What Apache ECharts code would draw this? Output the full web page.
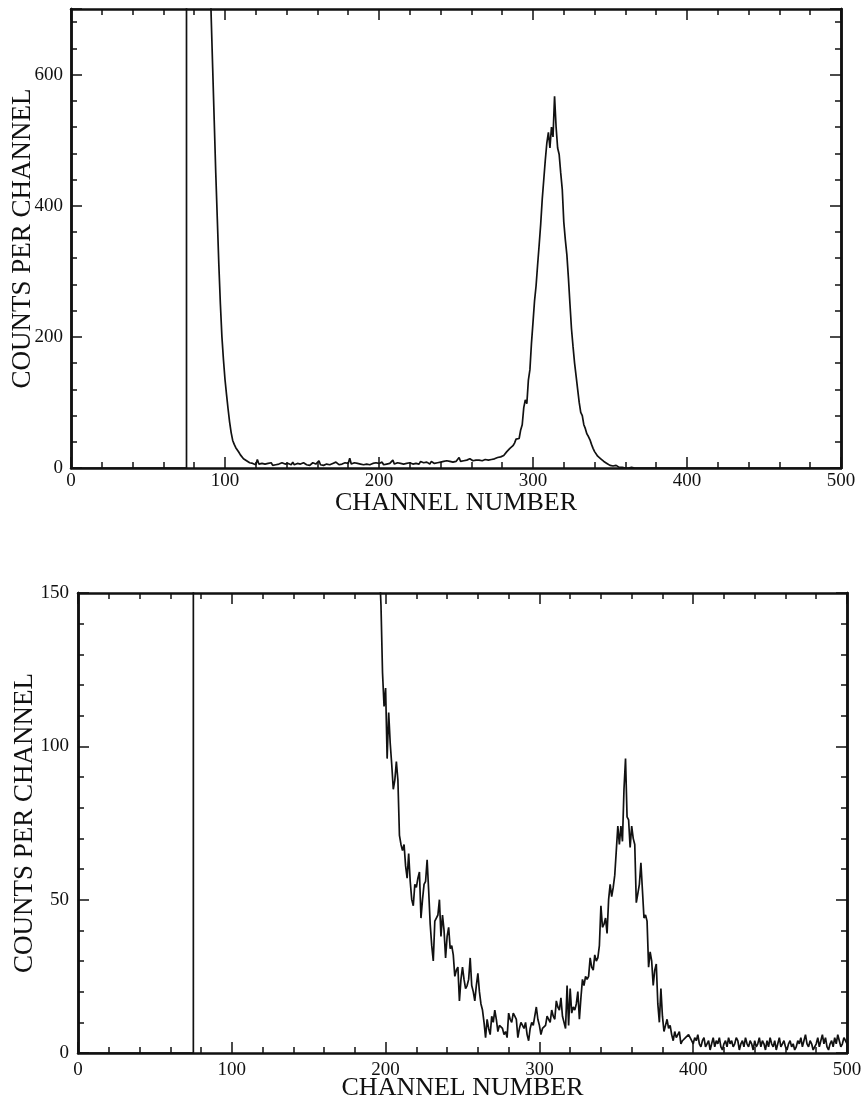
<!DOCTYPE html>
<html>
<head>
<meta charset="utf-8">
<script src="https://cdn.jsdelivr.net/npm/echarts@6/dist/echarts.min.js"></script>
<style>
html,body{margin:0;padding:0;background:#fff;}
#chart{width:862px;height:1099px;}
</style>
</head>
<body>
<div id="chart"></div>
<script>
// ---------- DATA ----------
var xTickLabels = ['0', '100', '200', '300', '400', '500'];
var topYTickLabels = ['0', '200', '400', '600'];
var bottomYTickLabels = ['0', '50', '100', '150'];

// Both spectra are zero from channel 0 up to channel 75
var zeroChannels = [0, 75];

// Top spectrum: counts per channel, first value is channel 75
var topStartChannel = 75;
var topCounts = [
  // 75-89 (off scale)
  3000, 3200, 3400, 3500, 3600, 3600, 3500, 3400, 3200, 3000, 2700, 2300, 1900, 1500, 1100,
  // 90-119
  790, 690, 610, 530, 450, 380, 310, 250, 200, 165,
  135, 112, 90, 70, 54, 42, 36, 31, 28, 24,
  20, 17, 14, 12, 11, 9, 8, 7, 7, 6,
  // 120-139
  5, 13, 6, 4, 7, 5, 6, 4, 7, 5, 8, 4, 6, 5, 7, 6, 4, 8, 5, 6,
  // 140-159
  4, 7, 6, 5, 9, 5, 6, 7, 4, 6, 5, 8, 6, 5, 7, 4, 6, 8, 5, 6,
  // 160-179
  7, 11, 5, 6, 4, 7, 6, 8, 5, 6, 7, 5, 9, 6, 5, 7, 6, 4, 8, 6,
  // 180-199
  7, 15, 6, 5, 8, 6, 7, 5, 6, 9, 5, 7, 6, 8, 5, 6, 7, 5, 8, 6,
  // 200-219
  7, 6, 9, 5, 7, 6, 8, 7, 5, 12, 6, 7, 8, 6, 7, 9, 6, 8, 7, 6,
  // 220-239
  8, 7, 6, 9, 7, 8, 6, 10, 7, 8, 7, 9, 8, 6, 10, 8, 7, 9, 8, 10,
  // 240-259
  9, 8, 10, 9, 11, 8, 10, 12, 9, 11, 10, 13, 16, 10, 12, 11, 13, 12, 11, 14,
  // 260-269
  12, 11, 13, 12, 14, 12, 13, 11, 14, 13,
  // 270-289
  11, 12, 10, 13, 12, 14, 13, 16, 18, 17, 20, 19, 22, 25, 27, 30, 31, 34, 38, 44,
  // 290-309
  47, 45, 58, 66, 92, 104, 98, 134, 150, 190, 222, 255, 278, 310, 340, 372, 410, 440, 470, 496,
  // 310-329
  512, 488, 520, 505, 567, 520, 488, 478, 450, 425, 375, 348, 325, 290, 250, 212, 185, 160, 140, 120,
  // 330-349
  100, 85, 80, 66, 60, 52, 48, 43, 36, 30, 25, 22, 18, 16, 14, 12, 10, 8, 7, 5,
  // 350-369
  4, 3, 3, 2, 4, 2, 1, 3, 1, 2, 0, 1, 0, 0, 1, 0, 0, 0, 0, 0,
  // 370-399
  0, 0, 0, 0, 0, 0, 0, 0, 0, 0, 0, 0, 0, 0, 0, 0, 0, 0, 0, 0,
  0, 0, 0, 0, 0, 0, 0, 0, 0, 0,
  // 400-439
  0, 0, 0, 0, 0, 0, 0, 0, 0, 0, 0, 0, 0, 0, 0, 0, 0, 0, 0, 0,
  0, 0, 0, 0, 0, 2, 0, 0, 0, 0, 0, 0, 0, 0, 0, 0, 0, 0, 0, 0,
  // 440-500
  0, 0, 0, 0, 0, 0, 0, 0, 0, 0, 0, 0, 0, 0, 0, 0, 0, 0, 0, 0,
  0, 0, 0, 0, 0, 0, 0, 0, 0, 0, 0, 0, 0, 0, 0, 0, 0, 0, 0, 0,
  0, 0, 0, 0, 0, 0, 0, 0, 0, 0, 0, 0, 0, 0, 0, 0, 0, 0, 0, 0, 0
];

// Bottom spectrum: counts per channel, first value is channel 75
var bottomStartChannel = 75;
var bottomCounts = [
  // 75-194 (off scale)
  900, 920, 940, 950, 960, 960, 950, 940, 930, 920, 900, 880, 860, 840, 820, 800, 780, 760, 740, 720,
  700, 680, 660, 640, 620, 600, 580, 560, 540, 520, 500, 485, 470, 455, 440, 425, 410, 395, 380, 370,
  360, 350, 340, 330, 320, 310, 300, 292, 284, 276, 268, 260, 252, 245, 238, 232, 226, 220, 215, 210,
  205, 200, 196, 192, 188, 185, 182, 179, 176, 173, 170, 168, 166, 164, 162, 160, 160, 158, 158, 157,
  160, 158, 162, 158, 160, 163, 159, 161, 165, 160, 162, 164, 160, 166, 162, 165, 168, 163, 166, 170,
  168, 172, 168, 171, 174, 170, 173, 176, 172, 175, 178, 174, 176, 172, 170, 168, 172, 169, 166, 168,
  // 195-199
  170, 158, 146, 124, 113,
  // 200-219
  119, 96, 111, 101, 94, 86, 89, 95, 89, 71, 68, 66, 68, 61, 57, 65, 56, 50, 48, 55,
  // 220-239
  54, 57, 59, 44, 50, 55, 56, 63, 53, 42, 35, 30, 43, 44, 45, 50, 38, 45, 40, 31,
  // 240-259
  38, 41, 34, 35, 32, 25, 27, 28, 17, 24, 28, 24, 21, 22, 24, 31, 22, 20, 17, 22,
  // 260-279
  26, 20, 16, 14, 10, 5, 11, 8, 6, 12, 10, 14, 11, 7, 9, 9, 8, 6, 7, 5,
  // 280-299
  13, 11, 10, 13, 12, 11, 5, 8, 10, 9, 8, 10, 6, 4, 8, 10, 9, 12, 15, 11,
  // 300-319
  9, 6, 8, 8, 9, 12, 11, 10, 14, 12, 11, 17, 15, 14, 18, 12, 10, 8, 22, 9,
  // 320-339
  21, 13, 15, 14, 16, 20, 11, 18, 24, 22, 25, 24, 25, 31, 28, 27, 32, 30, 31, 35,
  // 340-359
  48, 41, 42, 44, 39, 50, 55, 51, 54, 58, 66, 74, 68, 74, 69, 86, 96, 77, 76, 67,
  // 360-379
  74, 70, 68, 49, 52, 55, 62, 53, 44, 45, 43, 28, 33, 30, 22, 27, 29, 16, 10, 21,
  // 380-399
  12, 7, 9, 11, 8, 9, 6, 4, 7, 5, 6, 7, 3, 4, 4, 5, 5, 6, 5, 4,
  // 400-419
  3, 5, 4, 6, 3, 2, 4, 5, 2, 3, 4, 1, 3, 5, 2, 4, 3, 5, 2, 1,
  // 420-439
  3, 4, 2, 5, 3, 4, 2, 3, 5, 4, 1, 3, 4, 2, 5, 3, 2, 4, 3, 1,
  // 440-459
  4, 2, 3, 5, 2, 4, 3, 1, 4, 2, 5, 3, 2, 4, 1, 3, 5, 2, 3, 4,
  // 460-479
  2, 1, 3, 4, 2, 3, 1, 2, 4, 3, 5, 2, 4, 6, 3, 2, 4, 3, 1, 2,
  // 480-500
  3, 5, 2, 4, 6, 3, 5, 2, 1, 3, 4, 2, 5, 3, 6, 4, 2, 3, 5, 4, 3
];

// ---------- BUILD ----------
function pairs(start, counts) {
  var out = zeroChannels.map(function (c) { return [c, 0]; });
  for (var i = 0; i < counts.length; i++) out.push([start + i, counts[i]]);
  return out;
}
var FONT = 'Liberation Serif';
var BLACK = '#111';

function xAxes(gridIndex, labelMargin, nameGap) {
  var common = {
    type: 'value', gridIndex: gridIndex, min: 0, max: 500, interval: 100,
    splitLine: { show: false },
    axisLine: { show: true, onZero: false, lineStyle: { color: BLACK, width: 2.5 } },
    axisTick: { show: true, inside: true, length: 11, lineStyle: { color: BLACK, width: 1.5 } },
    minorTick: { show: true, splitNumber: 5, length: 6, lineStyle: { color: BLACK, width: 1.5 } },
    minorSplitLine: { show: false }
  };
  var bottom = Object.assign({}, common, {
    position: 'bottom',
    axisLabel: { show: true, margin: labelMargin, color: BLACK, fontFamily: FONT, fontSize: 19,
      formatter: function (v) { return xTickLabels[v / 100] || ''; } },
    name: 'CHANNEL NUMBER', nameLocation: 'middle', nameGap: nameGap, nameMoveOverlap: false,
    nameTextStyle: { color: BLACK, fontFamily: FONT, fontSize: 26 }
  });
  var top = Object.assign({}, common, { position: 'top', axisLabel: { show: false } });
  return [bottom, top];
}

function yAxes(gridIndex, max, major, minor, labels, labelMargin, nameGap) {
  var base = {
    type: 'value', gridIndex: gridIndex, min: 0, max: max,
    splitLine: { show: false },
    axisLine: { show: true, onZero: false, lineStyle: { color: BLACK, width: 2.5 } }
  };
  var out = [];
  ['left', 'right'].forEach(function (pos) {
    var majorAxis = Object.assign({}, base, {
      position: pos, interval: major,
      axisTick: { show: true, inside: true, length: 11, lineStyle: { color: BLACK, width: 1.5 } },
      axisLabel: pos === 'left' ? {
        show: true, margin: labelMargin, color: BLACK, fontFamily: FONT, fontSize: 19,
        formatter: function (v) { var i = v / major; return (i === Math.round(i) && labels[i]) ? labels[i] : ''; }
      } : { show: false }
    });
    if (pos === 'left') {
      majorAxis.name = 'COUNTS PER CHANNEL';
      majorAxis.nameLocation = 'middle';
      majorAxis.nameGap = nameGap;
      majorAxis.nameMoveOverlap = false;
      majorAxis.nameTextStyle = { color: BLACK, fontFamily: FONT, fontSize: 27 };
    }
    out.push(majorAxis);
    out.push(Object.assign({}, base, {
      position: pos, interval: minor,
      axisTick: { show: true, inside: true, length: 6, lineStyle: { color: BLACK, width: 1.5 } },
      axisLabel: { show: false }
    }));
  });
  return out;
}

var xs = xAxes(0, 4, 22).concat(xAxes(1, 8, 22));
var ys = yAxes(0, 700, 200, 40, topYTickLabels, 8, 35).concat(yAxes(1, 150, 50, 10, bottomYTickLabels, 9, 40));

var chart = echarts.init(document.getElementById('chart'), null, { renderer: 'canvas' });
chart.setOption({
  animation: false,
  backgroundColor: '#fff',
  grid: [
    { left: 71, top: 9, width: 770, height: 459, containLabel: false, outerBoundsMode: 'none' },
    { left: 78, top: 593, width: 769, height: 460, containLabel: false, outerBoundsMode: 'none' }
  ],
  xAxis: xs,
  yAxis: ys,
  series: [
    { type: 'line', xAxisIndex: 0, yAxisIndex: 0, data: pairs(topStartChannel, topCounts),
      showSymbol: false, clip: true, lineStyle: { color: BLACK, width: 1.7 } },
    { type: 'line', xAxisIndex: 2, yAxisIndex: 4, data: pairs(bottomStartChannel, bottomCounts),
      showSymbol: false, clip: true, lineStyle: { color: BLACK, width: 1.7 } }
  ]
});
</script>
</body>
</html>
